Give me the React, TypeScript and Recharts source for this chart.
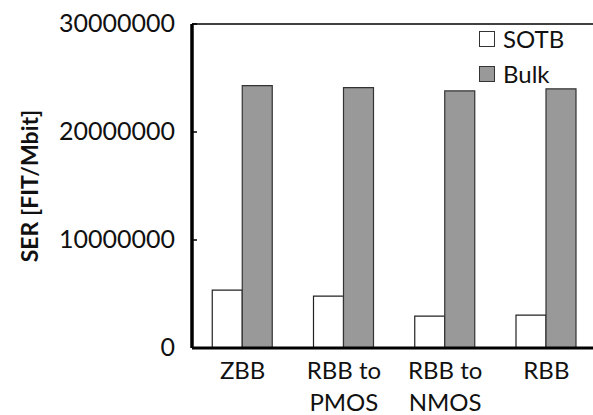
import { BarChart, Bar, XAxis, YAxis, ReferenceLine } from 'recharts'

const categories = ['ZBB', 'RBB to\nPMOS', 'RBB to\nNMOS', 'RBB']
const sotbValues = [5360000, 4800000, 2950000, 3050000]
const bulkValues = [24300000, 24100000, 23800000, 24000000]
const yTicks = [0, 10000000, 20000000, 30000000]
const seriesNames = ['SOTB', 'Bulk']

const data = categories.map((name, i) => ({ name, sotb: sotbValues[i], bulk: bulkValues[i] }))

const FONT = 'Lato, "Open Sans", sans-serif'
const FILLS = ['#ffffff', '#999999']

const YTick = ({ x, y, payload }: any) => (
  <g>
    <line x1={x + 17} x2={x + 22} y1={y} y2={y} stroke="#000" strokeWidth={1.5} />
    <text x={x} y={y} dy={8} textAnchor="end" fontSize={25} fontFamily={FONT} fill="#111">
      {payload.value}
    </text>
  </g>
)

const XTick = ({ x, y, payload }: any) => {
  const lines = String(payload.value).split('\n')
  return (
    <text x={x} y={y} textAnchor="middle" fontSize={24} fontFamily={FONT} fill="#111">
      {lines.map((l, i) => (
        <tspan key={i} x={x} dy={i === 0 ? 23 : 32}>
          {l}
        </tspan>
      ))}
    </text>
  )
}

const YLabel = ({ viewBox }: any) => {
  const cx = viewBox.x + 29
  const cy = viewBox.y + viewBox.height / 2
  return (
    <text
      x={cx}
      y={cy}
      transform={`rotate(-90 ${cx} ${cy})`}
      textAnchor="middle"
      dominantBaseline="central"
      fontSize={23}
      fontWeight={700}
      fontFamily={FONT}
      fill="#111"
    >
      SER [FIT/Mbit]
    </text>
  )
}

export default function App() {
  return (
    <div style={{ position: 'absolute', left: 0, top: 0, width: 593, height: 415, overflow: 'hidden', background: '#fff' }}>
      <BarChart
        width={600}
        height={415}
        data={data}
        margin={{ top: 24, right: 3, bottom: 0, left: 0 }}
        barCategoryGap="20%"
        barGap={0}
      >
        <XAxis
          dataKey="name"
          height={67}
          tickLine={false}
          axisLine={{ stroke: '#000', strokeWidth: 3 }}
          tick={<XTick />}
          interval={0}
        />
        <YAxis
          width={192}
          domain={[0, 30000000]}
          ticks={yTicks}
          tickSize={0}
          tickMargin={17}
          tickLine={false}
          axisLine={{ stroke: '#000', strokeWidth: 3.5 }}
          tick={<YTick />}
          label={<YLabel />}
        />
        <ReferenceLine y={30000000} stroke="#000" strokeWidth={1.5} />
        <Bar dataKey="sotb" name={seriesNames[0]} fill={FILLS[0]} stroke="#222" strokeWidth={1.2} isAnimationActive={false} />
        <Bar dataKey="bulk" name={seriesNames[1]} fill={FILLS[1]} stroke="#333" strokeWidth={1.2} isAnimationActive={false} />
      </BarChart>
      <div style={{ position: 'absolute', left: 479, top: 21, fontFamily: FONT, fontSize: 24, color: '#111' }}>
        {seriesNames.map((label, i) => (
          <div key={label} style={{ display: 'flex', alignItems: 'center', height: 35 }}>
            <span
              style={{
                width: 14,
                height: 14,
                background: FILLS[i],
                border: '1px solid #333',
                marginRight: 8,
                display: 'inline-block'
              }}
            />
            {label}
          </div>
        ))}
      </div>
    </div>
  )
}
